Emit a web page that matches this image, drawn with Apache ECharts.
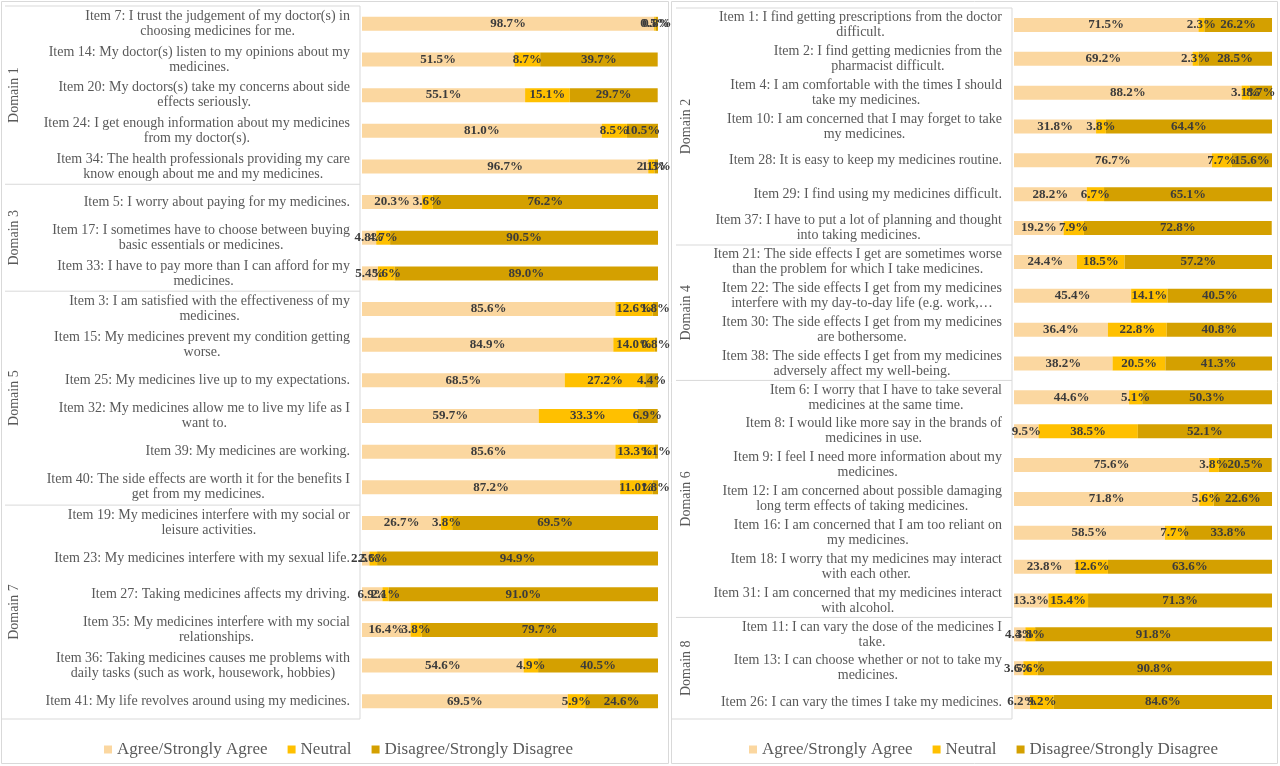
<!DOCTYPE html>
<html>
<head>
<meta charset="utf-8">
<script src="https://cdn.jsdelivr.net/npm/echarts@6/dist/echarts.min.js"></script>
<style>
  html, body { margin: 0; padding: 0; background: #fff; }
  #chart { width: 1280px; height: 766px; }
</style>
</head>
<body>
<div id="chart"></div>
<script>
// legend / series names and colours
const seriesNames = ['Agree/Strongly Agree', 'Neutral', 'Disagree/Strongly Disagree']
const barColors = ['#FBD7A0', '#FFC000', '#D4A000']

// left panel
const leftItems = [
  'Item 7: I trust the judgement of my doctor(s) in\nchoosing medicines for me.',
  'Item 14: My doctor(s) listen to my opinions about my\nmedicines.',
  'Item 20: My doctors(s) take my concerns about side\neffects seriously.',
  'Item 24: I get enough information about my medicines\nfrom my doctor(s).',
  'Item 34: The health professionals providing my care\nknow enough about me and my medicines.',
  'Item 5: I worry about paying for my medicines.',
  'Item 17: I sometimes have to choose between buying\nbasic essentials or medicines.',
  'Item 33: I have to pay more than I can afford for my\nmedicines.',
  'Item 3: I am satisfied with the effectiveness of my\nmedicines.',
  'Item 15: My medicines prevent my condition getting\nworse.',
  'Item 25: My medicines live up to my expectations.',
  'Item 32: My medicines allow me to live my life as I\nwant to.',
  'Item 39: My medicines are working.',
  'Item 40: The side effects are worth it for the benefits I\nget from my medicines.',
  'Item 19: My medicines interfere with my social or\nleisure activities.',
  'Item 23: My medicines interfere with my sexual life.',
  'Item 27: Taking medicines affects my driving.',
  'Item 35: My medicines interfere with my social\nrelationships.',
  'Item 36: Taking medicines causes me problems with\ndaily tasks (such as work, housework, hobbies)',
  'Item 41: My life revolves around using my medicines.',
]
const leftAgree = [98.7, 51.5, 55.1, 81.0, 96.7, 20.3, 4.8, 5.4, 85.6, 84.9, 68.5, 59.7, 85.6, 87.2, 26.7, 2.5, 6.9, 16.4, 54.6, 69.5]
const leftNeutral = [0.5, 8.7, 15.1, 8.5, 2.1, 3.6, 4.7, 5.6, 12.6, 14.0, 27.2, 33.3, 13.3, 11.0, 3.8, 2.6, 2.1, 3.8, 4.9, 5.9]
const leftDisagree = [0.8, 39.7, 29.7, 10.5, 1.3, 76.2, 90.5, 89.0, 1.8, 0.8, 4.4, 6.9, 1.1, 1.8, 69.5, 94.9, 91.0, 79.7, 40.5, 24.6]
const leftDomains = ['Domain 1', 'Domain 3', 'Domain 5', 'Domain 7']
const leftDomainSizes = [5, 3, 6, 6]

// right panel
const rightItems = [
  'Item 1: I find getting prescriptions from the doctor\ndifficult.',
  'Item 2: I find getting medicnies from the\npharmacist difficult.',
  'Item 4: I am comfortable with the times I should\ntake my medicines.',
  'Item 10: I am concerned that I may forget to take\nmy medicines.',
  'Item 28: It is easy to keep my medicines routine.',
  'Item 29: I find using my medicines difficult.',
  'Item 37: I have to put a lot of planning and thought\ninto taking medicines.',
  'Item 21: The side effects I get are sometimes worse\nthan the problem for which I take medicines.',
  'Item 22: The side effects I get from my medicines\ninterfere with my day-to-day life (e.g. work,…',
  'Item 30: The side effects I get from my medicines\nare bothersome.',
  'Item 38: The side effects I get from my medicines\nadversely affect my well-being.',
  'Item 6: I worry that I have to take several\nmedicines at the same time.',
  'Item 8: I would like more say in the brands of\nmedicines in use.',
  'Item 9: I feel I need more information about my\nmedicines.',
  'Item 12: I am concerned about possible damaging\nlong term effects of taking medicines.',
  'Item 16: I am concerned that I am too reliant on\nmy medicines.',
  'Item 18: I worry that my medicines may interact\nwith each other.',
  'Item 31: I am concerned that my medicines interact\nwith alcohol.',
  'Item 11: I can vary the dose of the medicines I\ntake.',
  'Item 13: I can choose whether or not to take my\nmedicines.',
  'Item 26: I can vary the times I take my medicines.',
]
const rightAgree = [71.5, 69.2, 88.2, 31.8, 76.7, 28.2, 19.2, 24.4, 45.4, 36.4, 38.2, 44.6, 9.5, 75.6, 71.8, 58.5, 23.8, 13.3, 4.4, 3.6, 6.2]
const rightNeutral = [2.3, 2.3, 3.1, 3.8, 7.7, 6.7, 7.9, 18.5, 14.1, 22.8, 20.5, 5.1, 38.5, 3.8, 5.6, 7.7, 12.6, 15.4, 3.8, 5.6, 9.2]
const rightDisagree = [26.2, 28.5, 8.7, 64.4, 15.6, 65.1, 72.8, 57.2, 40.5, 40.8, 41.3, 50.3, 52.1, 20.5, 22.6, 33.8, 63.6, 71.3, 91.8, 90.8, 84.6]
const rightDomains = ['Domain 2', 'Domain 4', 'Domain 6', 'Domain 8']
const rightDomainSizes = [7, 4, 7, 3]

const SERIF = 'Liberation Serif'
const GREY = '#595959'
const LINE = '#d9d9d9'

const chart = echarts.init(document.getElementById('chart'))

// 每行文字居中(块整体右对齐)
function itemLabel(v) {
  return v.split('\n').map(s => '{c|' + s + '}').join('\n')
}

function makeSeries(idx, values) {
  return values.map((data, i) => ({
    name: seriesNames[i],
    type: 'bar',
    stack: 'panel' + idx,
    xAxisIndex: idx,
    yAxisIndex: idx,
    barWidth: 14,
    itemStyle: { color: barColors[i] },
    label: {
      show: true,
      position: 'inside',
      color: '#3b3b3b',
      fontFamily: SERIF,
      fontWeight: 'bold',
      fontSize: 13,
      textBorderWidth: 0,
      formatter: p => p.value.toFixed(1) + '%',
    },
    emphasis: { disabled: true },
    data,
  }))
}

function makeYAxis(idx, items) {
  return {
    type: 'category',
    gridIndex: idx,
    inverse: true,
    data: items,
    axisLine: { show: false },
    axisTick: { show: false },
    axisLabel: {
      interval: 0,
      margin: 12,
      formatter: itemLabel,
      rich: {
        c: { align: 'center', fontFamily: SERIF, fontSize: 14, color: GREY, lineHeight: 15 },
      },
    },
  }
}

const legendBase = {
  data: seriesNames,
  top: 736,
  icon: 'rect',
  itemWidth: 8,
  itemHeight: 8,
  itemGap: 20,
  selectedMode: false,
  textStyle: { fontFamily: SERIF, fontSize: 17, color: GREY },
}

chart.setOption({
  animation: false,
  legend: [
    { ...legendBase, left: 99 },
    { ...legendBase, left: 744 },
  ],
  grid: [
    { left: 362, top: 6, width: 296, height: 713 },
    { left: 1014, top: 8, width: 258, height: 711 },
  ],
  xAxis: [0, 1].map(i => ({
    type: 'value', gridIndex: i, min: 0, max: 100, show: false,
  })),
  yAxis: [makeYAxis(0, leftItems), makeYAxis(1, rightItems)],
  series: [
    ...makeSeries(0, [leftAgree, leftNeutral, leftDisagree]),
    ...makeSeries(1, [rightAgree, rightNeutral, rightDisagree]),
  ],
})

// 表格边框、分隔线、Domain 标签
function tableGraphics(axisIdx, count, domains, sizes, panelX, gridLeft, domainX) {
  const py = i => chart.convertToPixel({ yAxisIndex: axisIdx }, i)
  const band = py(1) - py(0)
  const top = py(0) - band / 2
  const bottom = py(count - 1) + band / 2
  const xL = panelX + 4
  const xR = gridLeft - 2
  const els = []
  const line = (x1, y1, x2, y2) => ({
    type: 'line', silent: true,
    shape: { x1, y1, x2, y2 },
    style: { stroke: LINE, lineWidth: 1 },
  })
  els.push(line(xL, top, xR, top))
  els.push(line(xR, top, xR, bottom))
  els.push(line(panelX, bottom, xR, bottom))
  let start = 0
  domains.forEach((name, k) => {
    const end = start + sizes[k]
    const y0 = py(start) - band / 2
    const y1 = py(end - 1) + band / 2
    if (k > 0) els.push(line(xL, y0, xR, y0))
    els.push({
      type: 'text', silent: true,
      x: domainX, y: (y0 + y1) / 2, rotation: Math.PI / 2,
      style: {
        text: name, fontFamily: SERIF, fontSize: 14, fill: GREY,
        align: 'center', verticalAlign: 'middle',
      },
    })
    start = end
  })
  return els
}

const frames = [
  { type: 'rect', silent: true, shape: { x: 1.5, y: 1.5, width: 667, height: 762 }, style: { fill: 'none', stroke: LINE } },
  { type: 'rect', silent: true, shape: { x: 671.5, y: 1.5, width: 606, height: 762 }, style: { fill: 'none', stroke: LINE } },
]

chart.setOption({
  graphic: [
    ...frames,
    ...tableGraphics(0, leftItems.length, leftDomains, leftDomainSizes, 1, 362, 14),
    ...tableGraphics(1, rightItems.length, rightDomains, rightDomainSizes, 672, 1014, 686),
  ],
})
</script>
</body>
</html>
